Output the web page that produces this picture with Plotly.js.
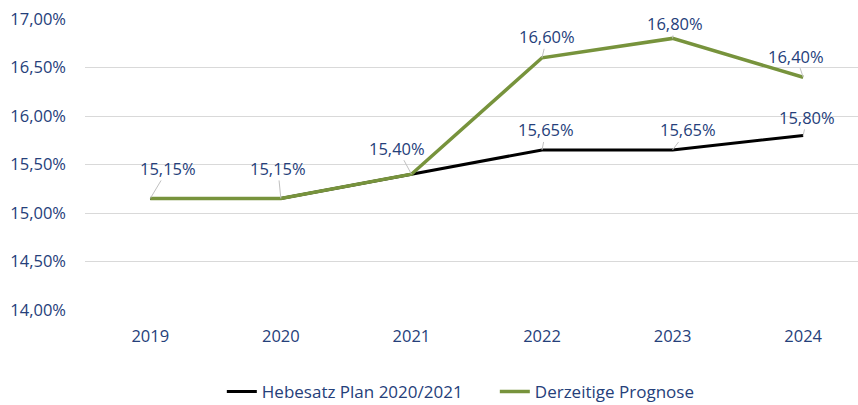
<!DOCTYPE html>
<html>
<head>
<meta charset="utf-8">
<script src="https://cdn.plot.ly/plotly-3.0.1.min.js"></script>
<style>html,body{margin:0;padding:0;background:#fff;}#chart{width:858px;height:405px;}</style>
</head>
<body>
<div id="chart"></div>
<script>
const years = ["2019", "2020", "2021", "2022", "2023", "2024"];
const planValues = [15.15, 15.15, 15.40, 15.65, 15.65, 15.80];
const prognoseValues = [15.15, 15.15, 15.40, 16.60, 16.80, 16.40];
const seriesNames = ["Hebesatz Plan 2020/2021", "Derzeitige Prognose"];
const yTicks = [14.0, 14.5, 15.0, 15.5, 16.0, 16.5, 17.0];

// label leader offsets (pixels, styling only)
const planOffsets = [null, null, null, [4, -20], [15, -20], [4, -18]];
const progOffsets = [[18, -30], [-3, -30], [-14, -26], [5, -21], [2, -15], [-7, -21]];

const navy = "#25407a";
const fontFam = "'Open Sans', 'Noto Sans', sans-serif";
const fmt = v => v.toFixed(2).replace(".", ",") + "%";

const traces = [
  {x: years, y: planValues, name: seriesNames[0], type: "scatter", mode: "lines",
   line: {color: "#000000", width: 3}, hoverinfo: "skip"},
  {x: years, y: prognoseValues, name: seriesNames[1], type: "scatter", mode: "lines",
   line: {color: "#77933c", width: 3.5}, hoverinfo: "skip"}
];

const annotations = [];
function addLabels(vals, offs) {
  vals.forEach((v, i) => {
    if (!offs[i]) return;
    annotations.push({
      x: i, y: v, xref: "x", yref: "y", text: fmt(v),
      showarrow: true, arrowhead: 0, arrowwidth: 1, arrowcolor: "#c0c0c0",
      ax: offs[i][0], ay: offs[i][1], standoff: 0,
      font: {family: fontFam, size: 16.5, color: navy}, borderpad: 0
    });
  });
}
addLabels(prognoseValues, progOffsets);
addLabels(planValues, planOffsets);

const layout = {
  width: 858, height: 405,
  margin: {l: 85, r: 0, t: 19, b: 95, autoexpand: false},
  paper_bgcolor: "#ffffff", plot_bgcolor: "#ffffff",
  separators: ",.",
  font: {family: fontFam, size: 16.5, color: navy},
  showlegend: true,
  legend: {orientation: "h", x: 0.177, xanchor: "left", y: -0.282, yanchor: "middle",
           font: {family: fontFam, size: 17, color: navy}, itemwidth: 30,
           entrywidth: 228, entrywidthmode: "pixels"},
  xaxis: {type: "category", range: [-0.5, 5.42], showgrid: false, zeroline: false,
          showline: false, ticks: "", ticklabelstandoff: 14,
          tickfont: {family: fontFam, size: 16.5, color: navy}, fixedrange: true},
  yaxis: {range: [14, 17], tickvals: yTicks, ticktext: yTicks.map(fmt),
          showgrid: true, gridcolor: "#d9d9d9", gridwidth: 1, zeroline: false,
          showline: false, ticks: "", ticklabelstandoff: 18,
          tickfont: {family: fontFam, size: 16.5, color: navy}, fixedrange: true},
  annotations: annotations,
  hovermode: false
};

Plotly.newPlot("chart", traces, layout, {displayModeBar: false});
</script>
</body>
</html>
